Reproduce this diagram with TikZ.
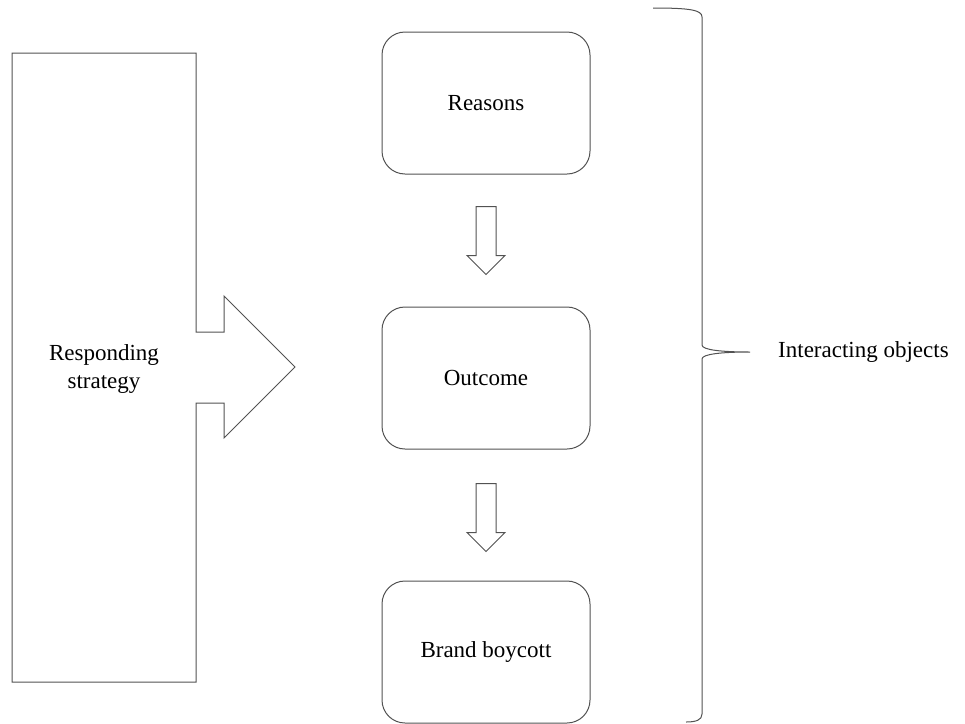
\documentclass[tikz,border=0pt]{standalone}
\usepackage{fontspec}
\setmainfont{Liberation Serif}
\usetikzlibrary{calc}
\begin{document}
\begin{tikzpicture}[x=1pt,y=-1pt,
  line/.style={draw=black!68,line width=1pt},
  stagebox/.style={line,rounded corners=23pt,minimum width=208pt,minimum height=142pt,
    inner sep=0pt,font=\fontsize{23}{27}\selectfont},
  label/.style={font=\fontsize{23}{28}\selectfont,inner sep=0pt,align=center}]
\useasboundingbox (0,0) rectangle (965,723);

% stages of the process
\node[stagebox] (reasons) at (486,103) {Reasons};
\node[stagebox] (outcome) at (486,378) {Outcome};
\node[stagebox] (boycott) at (486,652) {Brand boycott};

% hollow block arrows hanging below a stage
\foreach \src/\gap in {reasons/32,outcome/34}{
  \draw[line,line join=miter] ($(\src.south)+(-10,\gap)$) -- ++(20,0) -- ++(0,49) -- ++(9,0)
    -- ++(-19,19) -- ++(-19,-19) -- ++(9,0) -- cycle;
}

% responding strategy: tall panel with an arrow pointing at the stages
\draw[line,line join=miter] (12,53) -- (196,53) -- (196,332) -- (224,332) -- (224,296)
  -- (295,367) -- (224,438) -- (224,403) -- (196,403) -- (196,682) -- (12,682) -- cycle;
\node[label] (strategy) at (104,369) {Responding\\strategy};

% brace grouping the interacting objects
\draw[line] (653,8) .. controls (690,8) and (702,10) .. (702,17)
  -- (702,345) .. controls (702,350) and (722,352) .. (750,352)
  .. controls (722,352) and (702,354) .. (702,359)
  -- (702,714) .. controls (702,720) and (696,722) .. (686,722);
\node[label,anchor=west] (objects) at (778,352) {Interacting objects};
\end{tikzpicture}
\end{document}
